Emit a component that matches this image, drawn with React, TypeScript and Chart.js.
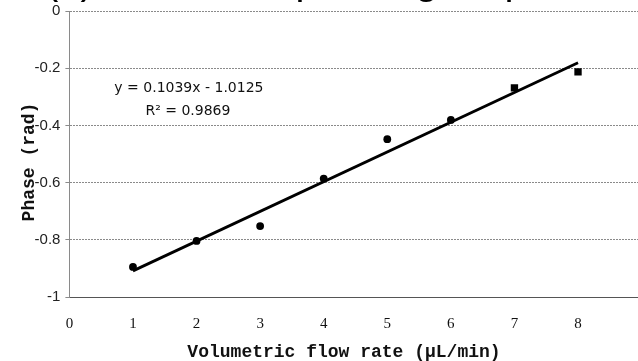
import React, { useEffect, useRef } from "react";
import { Chart, registerables } from "chart.js";

Chart.register(...registerables);

// ---- data ----
const flowRates = [1, 2, 3, 4, 5, 6, 7, 8];
const phaseValues = [-0.895, -0.804, -0.752, -0.586, -0.448, -0.381, -0.269, -0.213];
const pointShapes = ["circle", "circle", "circle", "circle", "circle", "circle", "rect", "rect"];
const pointSizes = [3.9, 3.9, 3.9, 3.9, 3.9, 3.9, 5.2, 5.2];
const trendX = [1, 8];
const trendY = [-0.9086, -0.1813];
const xTickValues = [0, 1, 2, 3, 4, 5, 6, 7, 8, 9];
const yTickValues = [0, -0.2, -0.4, -0.6, -0.8, -1];
const equationLines = ["y = 0.1039x - 1.0125", "R\u00B2 = 0.9869"];
const xTitle = "Volumetric flow rate (\u00B5L/min)";
const yTitle = "Phase (rad)";
const captionText = "(b) The corresponding sequence";

const AREA = { left: 69.4, right: 641.6, top: 11, bottom: 297, canvasH: 361 };

const areaPlugin = {
  id: "fixedArea",
  afterLayout(chart: any) {
    const ca = chart.chartArea;
    ca.left = AREA.left;
    ca.right = AREA.right;
    ca.top = AREA.top;
    ca.bottom = AREA.bottom;
    ca.width = AREA.right - AREA.left;
    ca.height = AREA.bottom - AREA.top;
    const x = chart.scales.x;
    x.left = AREA.left;
    x.right = AREA.right;
    x.width = AREA.right - AREA.left;
    x.top = AREA.bottom;
    x.bottom = AREA.canvasH;
    x.height = AREA.canvasH - AREA.bottom;
    x.configure();
    const y = chart.scales.y;
    y.left = 0;
    y.right = AREA.left;
    y.width = AREA.left;
    y.top = AREA.top;
    y.bottom = AREA.bottom;
    y.height = AREA.bottom - AREA.top;
    y.configure();
  },
};

const textPlugin = {
  id: "customTexts",
  afterDraw(chart: any) {
    const { ctx, scales } = chart;
    const xs = scales.x;
    const ys = scales.y;
    ctx.save();
    ctx.fillStyle = "#111";
    ctx.textAlign = "center";
    ctx.textBaseline = "middle";
    // equation
    ctx.font = '14px "DejaVu Sans"';
    const ex = xs.getPixelForValue(1.88);
    ctx.fillText(equationLines[0], ex, ys.getPixelForValue(-0.272));
    ctx.fillText(equationLines[1], ex - 1, ys.getPixelForValue(-0.35));
    // axis titles
    ctx.font = 'bold 18px "Liberation Mono"';
    ctx.fillText(xTitle, 344, 352);
    ctx.translate(29, 162);
    ctx.rotate(-Math.PI / 2);
    ctx.fillText(yTitle, 0, 0);
    ctx.restore();
  },
};

export default function App() {
  const ref = useRef<HTMLCanvasElement | null>(null);
  useEffect(() => {
    if (!ref.current) return;
    const gridColor = "#8a8a8a";
    const chart = new Chart(ref.current, {
      type: "scatter",
      data: {
        datasets: [
          {
            label: "data",
            data: flowRates.map((x, i) => ({ x, y: phaseValues[i] })),
            backgroundColor: "#000",
            borderColor: "#000",
            pointStyle: pointShapes as any,
            pointRadius: pointSizes,
            pointBorderWidth: 0,
          },
          {
            label: "trend",
            data: trendX.map((x, i) => ({ x, y: trendY[i] })),
            showLine: true,
            borderColor: "#000",
            borderWidth: 2.8,
            pointRadius: 0,
          },
        ],
      },
      options: {
        animation: false,
        responsive: false,
        layout: { padding: 0, autoPadding: false },
        plugins: { legend: { display: false }, tooltip: { enabled: false } },
        scales: {
          x: {
            type: "linear",
            min: 0,
            max: 9,
            afterBuildTicks: (s: any) => {
              s.ticks = xTickValues.map((v) => ({ value: v }));
            },
            grid: { display: false },
            border: { display: true, color: "#555", dash: [3, 1], width: 1 },
            ticks: {
              autoSkip: false,
              maxRotation: 0,
              padding: 10,
              color: "#111",
              font: { family: "Liberation Serif", size: 15 },
            },
          },
          y: {
            type: "linear",
            min: -1,
            max: 0,
            afterBuildTicks: (s: any) => {
              s.ticks = yTickValues.map((v) => ({ value: v }));
            },
            grid: {
              color: gridColor,
              lineWidth: 1,
              tickLength: 4,
              drawTicks: true,
            },
            border: { display: true, color: gridColor, dash: [2, 1], width: 1 },
            ticks: {
              padding: 5,
              color: "#222",
              font: { family: "Liberation Sans", size: 15 },
              callback: (v: any) => String(+Number(v).toFixed(1)),
            },
          },
        },
      },
      plugins: [areaPlugin, textPlugin],
    } as any);
    return () => chart.destroy();
  }, []);

  return (
    <div
      style={{
        position: "absolute",
        left: 0,
        top: 0,
        width: 638,
        height: 361,
        overflow: "hidden",
        background: "#fff",
      }}
    >
      <canvas ref={ref} width={638} height={361} style={{ display: "block" }} />
      <div
        style={{
          position: "absolute",
          left: 45,
          top: -40,
          fontFamily: '"Liberation Sans"',
          fontSize: 40,
          lineHeight: "40px",
          whiteSpace: "nowrap",
          color: "#000",
        }}
      >
        {captionText}
      </div>
    </div>
  );
}
